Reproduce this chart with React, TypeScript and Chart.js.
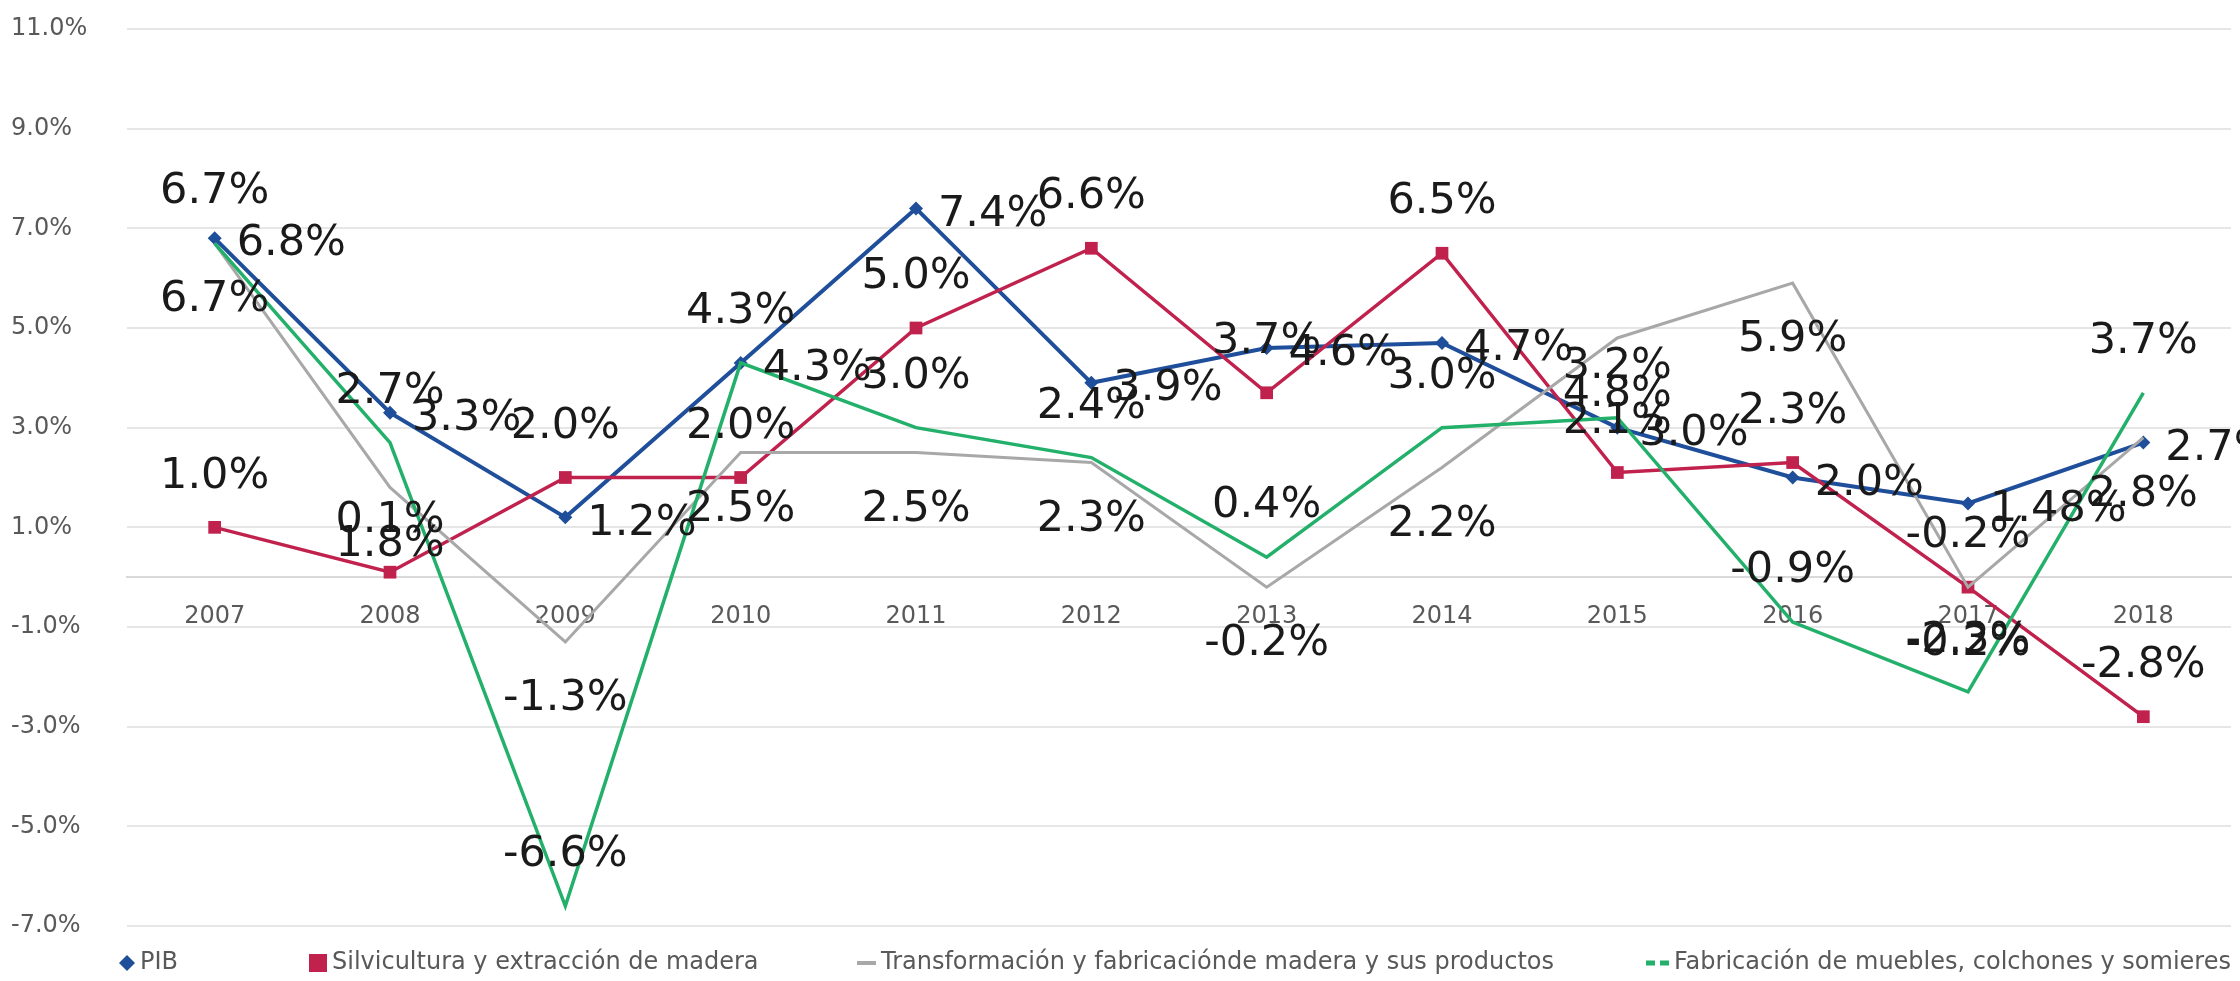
import { useEffect, useRef } from 'react';
import { Chart, registerables } from 'chart.js';

Chart.register(...registerables);

// ---- data ----
const YEARS = ['2007', '2008', '2009', '2010', '2011', '2012', '2013', '2014', '2015', '2016', '2017', '2018'];
const PIB = [6.8, 3.3, 1.2, 4.3, 7.4, 3.9, 4.6, 4.7, 3.0, 2.0, 1.48, 2.7];
const SILVICULTURA = [1.0, 0.1, 2.0, 2.0, 5.0, 6.6, 3.7, 6.5, 2.1, 2.3, -0.2, -2.8];
const TRANSFORMACION = [6.7, 1.8, -1.3, 2.5, 2.5, 2.3, -0.2, 2.2, 4.8, 5.9, -0.2, 2.8];
const FABRICACION = [6.7, 2.7, -6.6, 4.3, 3.0, 2.4, 0.4, 3.0, 3.2, -0.9, -2.3, 3.7];
const SERIES_NAMES = [
  'PIB',
  'Silvicultura y extracción de madera',
  'Transformación y fabricaciónde madera y sus productos',
  'Fabricación de muebles, colchones y somieres',
];
const Y_MIN = -7;
const Y_MAX = 11;
const Y_STEP = 2;

// ---- styles ----
const COLORS = ['#1F4E9A', '#C0214D', '#A8A8A8', '#22B06A'];
const LABEL_POS = ['right', 'above', 'below', 'above'];
const FONT = '"DejaVu Sans", sans-serif';
const LEGEND_X = [119, 309, 857, 1646];
const LEGEND_MARK_W = [16, 18, 19, 23];

const fmt = (v: number) => {
  const t = v * 10;
  return (Math.abs(t - Math.round(t)) < 1e-9 ? v.toFixed(1) : String(v)) + '%';
};

const valueLabels = {
  id: 'valueLabels',
  afterDatasetsDraw(chart: any) {
    const ctx = chart.ctx;
    ctx.save();
    ctx.font = `43px ${FONT}`;
    ctx.fillStyle = '#1a1a1a';
    ctx.textBaseline = 'middle';
    chart.data.datasets.forEach((ds: any, i: number) => {
      const meta = chart.getDatasetMeta(i);
      const pos = LABEL_POS[i];
      meta.data.forEach((el: any, j: number) => {
        const txt = fmt(ds.data[j]);
        let x = el.x;
        let y = el.y;
        if (pos === 'right') {
          ctx.textAlign = 'left';
          x += 22;
          y += 6;
        } else if (pos === 'above') {
          ctx.textAlign = 'center';
          y -= 51;
        } else {
          ctx.textAlign = 'center';
          y += 57;
        }
        ctx.fillText(txt, x, y);
      });
    });
    ctx.restore();
  },
};

const bottomLegend = {
  id: 'bottomLegend',
  afterDraw(chart: any) {
    const ctx = chart.ctx;
    const cy = chart.chartArea.bottom + 37;
    ctx.save();
    ctx.font = `24px ${FONT}`;
    ctx.textBaseline = 'middle';
    ctx.textAlign = 'left';
    chart.data.datasets.forEach((ds: any, i: number) => {
      const x = LEGEND_X[i];
      const w = LEGEND_MARK_W[i];
      const cx = x + w / 2;
      ctx.fillStyle = COLORS[i];
      ctx.strokeStyle = COLORS[i];
      if (i === 0) {
        ctx.beginPath();
        ctx.moveTo(cx, cy - w / 2);
        ctx.lineTo(cx + w / 2, cy);
        ctx.lineTo(cx, cy + w / 2);
        ctx.lineTo(cx - w / 2, cy);
        ctx.closePath();
        ctx.fill();
      } else if (i === 1) {
        ctx.fillRect(x, cy - w / 2, w, w);
      } else {
        ctx.lineWidth = i === 2 ? 4 : 5;
        ctx.setLineDash(i === 3 ? [9, 5] : []);
        ctx.beginPath();
        ctx.moveTo(x, cy);
        ctx.lineTo(x + w, cy);
        ctx.stroke();
        ctx.setLineDash([]);
      }
      ctx.fillStyle = '#595959';
      ctx.fillText(ds.label, x + w + 5, cy);
    });
    ctx.restore();
  },
};

export default function App() {
  const ref = useRef<HTMLCanvasElement>(null);

  useEffect(() => {
    const chart = new Chart(ref.current as HTMLCanvasElement, {
      type: 'line',
      data: {
        labels: YEARS,
        datasets: [
          {
            label: SERIES_NAMES[0],
            data: PIB,
            borderColor: COLORS[0],
            backgroundColor: COLORS[0],
            borderWidth: 4,
            pointStyle: 'rectRot',
            pointRadius: 7,
            pointBorderWidth: 0,
            tension: 0,
            order: 3,
          },
          {
            label: SERIES_NAMES[1],
            data: SILVICULTURA,
            borderColor: COLORS[1],
            backgroundColor: COLORS[1],
            borderWidth: 3.5,
            pointStyle: 'rect',
            pointRadius: 9,
            pointBorderWidth: 0,
            tension: 0,
            order: 2,
          },
          {
            label: SERIES_NAMES[2],
            data: TRANSFORMACION,
            borderColor: COLORS[2],
            backgroundColor: COLORS[2],
            borderWidth: 3,
            pointRadius: 0,
            pointHoverRadius: 0,
            tension: 0,
            order: 1,
          },
          {
            label: SERIES_NAMES[3],
            data: FABRICACION,
            borderColor: COLORS[3],
            backgroundColor: COLORS[3],
            borderWidth: 3.5,
            pointRadius: 0,
            pointHoverRadius: 0,
            tension: 0,
            order: 0,
          },
        ] as any,
      },
      options: {
        responsive: false,
        maintainAspectRatio: false,
        devicePixelRatio: 1,
        animation: false,
        events: [],
        layout: { padding: { top: 29, left: 11, right: 7, bottom: 55 } },
        scales: {
          x: {
            type: 'category',
            position: { y: 0 } as any,
            offset: true,
            grid: { display: false, drawTicks: false },
            border: { display: true, color: '#D9D9D9', width: 2 },
            ticks: {
              color: '#595959',
              font: { family: FONT, size: 24 },
              padding: 25,
              maxRotation: 0,
              autoSkip: false,
            },
          },
          y: {
            type: 'linear',
            min: Y_MIN,
            max: Y_MAX,
            afterFit: (scale: any) => {
              scale.width = 116;
            },
            grid: { color: '#E6E6E6', lineWidth: 2, drawTicks: false },
            border: { display: false },
            ticks: {
              stepSize: Y_STEP,
              color: '#595959',
              font: { family: FONT, size: 24 },
              crossAlign: 'far',
              padding: 8,
              callback: (v: any) => Number(v).toFixed(1) + '%',
            },
          },
        },
        plugins: {
          tooltip: { enabled: false },
          legend: { display: false },
        },
      } as any,
      plugins: [valueLabels, bottomLegend],
    });
    return () => chart.destroy();
  }, []);

  return (
    <div style={{ position: 'absolute', left: 0, top: 0, width: 2240, height: 981, background: '#ffffff' }}>
      <canvas ref={ref} width={2240} height={981} style={{ display: 'block', width: 2240, height: 981 }} />
    </div>
  );
}
